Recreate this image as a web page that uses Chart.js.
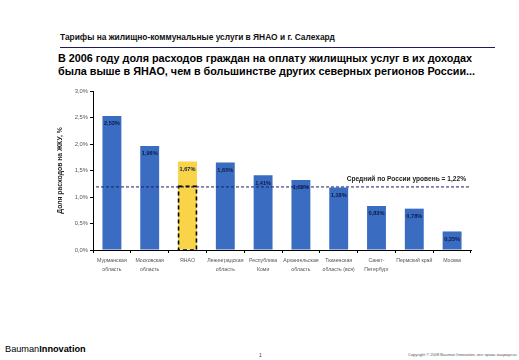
<!DOCTYPE html>
<html>
<head>
<meta charset="utf-8">
<script src="https://cdn.jsdelivr.net/npm/chart.js@4"></script>
<style>
  body { margin: 0; width: 519px; height: 360px; background: #fff; position: relative; overflow: hidden; font-family: "Liberation Sans", Arial, sans-serif; }
  .abs { position: absolute; white-space: nowrap; }
  #title { left: 60px; top: 32px; font-size: 8.4px; font-weight: bold; color: #111; }
  #rule { left: 60px; top: 47px; width: 435px; height: 0; border-top: 1.5px solid #1b1b5e; }
  #headline { left: 58px; top: 52px; font-size: 10.8px; font-weight: bold; color: #000; line-height: 12.5px; }
  #wrap { left: 50px; top: 82px; width: 425px; height: 198px; }
  #brand { left: 5px; top: 344px; font-size: 9.2px; color: #000; }
  #page { left: 259px; top: 352px; font-size: 5px; color: #333; }
  #copy { left: 408px; top: 352px; font-size: 4px; color: #555; }
</style>
</head>
<body>
<div id="title" class="abs">Тарифы на жилищно-коммунальные услуги в ЯНАО и г. Салехард</div>
<div id="rule" class="abs"></div>
<div id="headline" class="abs">В 2006 году доля расходов граждан на оплату жилищных услуг в их доходах<br>была выше в ЯНАО, чем в большинстве других северных регионов России...</div>
<div id="wrap" class="abs"><canvas id="chart"></canvas></div>
<div id="brand" class="abs">Bauman<b>Innovation</b></div>
<div id="page" class="abs">1</div>
<div id="copy" class="abs">Copyright © 2008 Bauman Innovation, все права защищены</div>
<script>
const regions = [
  ['Мурманская', 'область'],
  ['Московская', 'область'],
  'ЯНАО',
  ['Ленинградская', 'область'],
  ['Республика', 'Коми'],
  ['Архангельская', 'область'],
  ['Тюменская', 'область (вся)'],
  ['Санкт-', 'Петербург'],
  'Пермский край',
  'Москва'
];
const housingShare = [2.53, 1.96, 1.67, 1.65, 1.41, 1.32, 1.18, 0.83, 0.78, 0.35];
const yTicks = [0, 0.5, 1.0, 1.5, 2.0, 2.5, 3.0];
const highlightIndex = 2;
const russiaAvgLabel = 'Средний по России уровень = 1,22%';
const russiaAvgLine = 1.19;
const yanaoBoxLevel = 1.2;

const blue = '#3a6cc2';
const yellow = '#f9d448';

const fmt = v => v.toFixed(2).replace('.', ',') + '%';

const overlay = {
  id: 'overlay',
  afterDatasetsDraw(chart) {
    const ctx = chart.ctx;
    const y = chart.scales.y;
    const meta = chart.getDatasetMeta(0);

    // value labels inside bar tops
    ctx.save();
    ctx.font = 'bold 5.6px "Liberation Sans", Arial';
    ctx.fillStyle = '#0d1a45';
    ctx.textAlign = 'center';
    ctx.textBaseline = 'top';
    meta.data.forEach((bar, i) => {
      ctx.fillText(fmt(housingShare[i]), bar.x, bar.y + 5);
    });
    ctx.restore();

    // dashed box inside YANAO bar
    const hb = meta.data[highlightIndex];
    const half = hb.width / 2;
    const top = y.getPixelForValue(yanaoBoxLevel);
    const bottom = y.getPixelForValue(0);
    ctx.save();
    ctx.strokeStyle = '#000';
    ctx.lineWidth = 1.6;
    ctx.setLineDash([4, 3]);
    ctx.strokeRect(hb.x - half + 0.5, top, hb.width - 1, bottom - top);
    ctx.restore();

    // average line
    const ly = y.getPixelForValue(russiaAvgLine);
    ctx.save();
    ctx.strokeStyle = '#1c1c6a';
    ctx.lineWidth = 1;
    ctx.setLineDash([3, 2]);
    ctx.beginPath();
    ctx.moveTo(chart.chartArea.left + 3, ly);
    ctx.lineTo(chart.chartArea.right, ly);
    ctx.stroke();
    ctx.setLineDash([]);
    ctx.font = 'bold 6.6px "Liberation Sans", Arial';
    ctx.fillStyle = '#222';
    ctx.textAlign = 'right';
    ctx.textBaseline = 'alphabetic';
    ctx.fillText(russiaAvgLabel, chart.chartArea.right - 5, ly - 6);
    ctx.restore();
  }
};

new Chart(document.getElementById('chart'), {
  type: 'bar',
  data: {
    labels: regions,
    datasets: [{
      data: housingShare,
      backgroundColor: housingShare.map((v, i) => i === highlightIndex ? yellow : blue),
      categoryPercentage: 1,
      barPercentage: 0.5
    }]
  },
  options: {
    responsive: true,
    maintainAspectRatio: false,
    animation: false,
    devicePixelRatio: 1,
    layout: { padding: { top: 9, right: 4 } },
    plugins: { legend: { display: false }, tooltip: { enabled: false } },
    scales: {
      x: {
        grid: { drawOnChartArea: false, drawTicks: true, tickLength: 3, color: '#000', offset: true },
        border: { color: '#000', width: 1 },
        ticks: {
          color: '#555',
          font: { size: 5.2, family: '"Liberation Sans", Arial', lineHeight: 1.75 },
          padding: 3,
          maxRotation: 0,
          autoSkip: false
        },
        afterFit: s => { s.height = 30; }
      },
      y: {
        min: 0,
        max: 3,
        afterBuildTicks: s => { s.ticks = yTicks.map(v => ({ value: v })); },
        grid: { drawOnChartArea: false, drawTicks: true, tickLength: 3, color: '#000' },
        border: { color: '#000', width: 1 },
        ticks: {
          color: '#555',
          font: { size: 5.8, family: '"Liberation Sans", Arial' },
          padding: 2,
          callback: v => v.toFixed(1).replace('.', ',') + '%'
        },
        title: {
          display: true,
          text: 'Доля расходов на ЖКУ, %',
          color: '#222',
          font: { size: 6.8, weight: 'bold', family: '"Liberation Sans", Arial' },
          padding: { top: 6, bottom: 0 }
        },
        afterFit: s => { s.width = 43; }
      }
    }
  },
  plugins: [overlay]
});
</script>
</body>
</html>
